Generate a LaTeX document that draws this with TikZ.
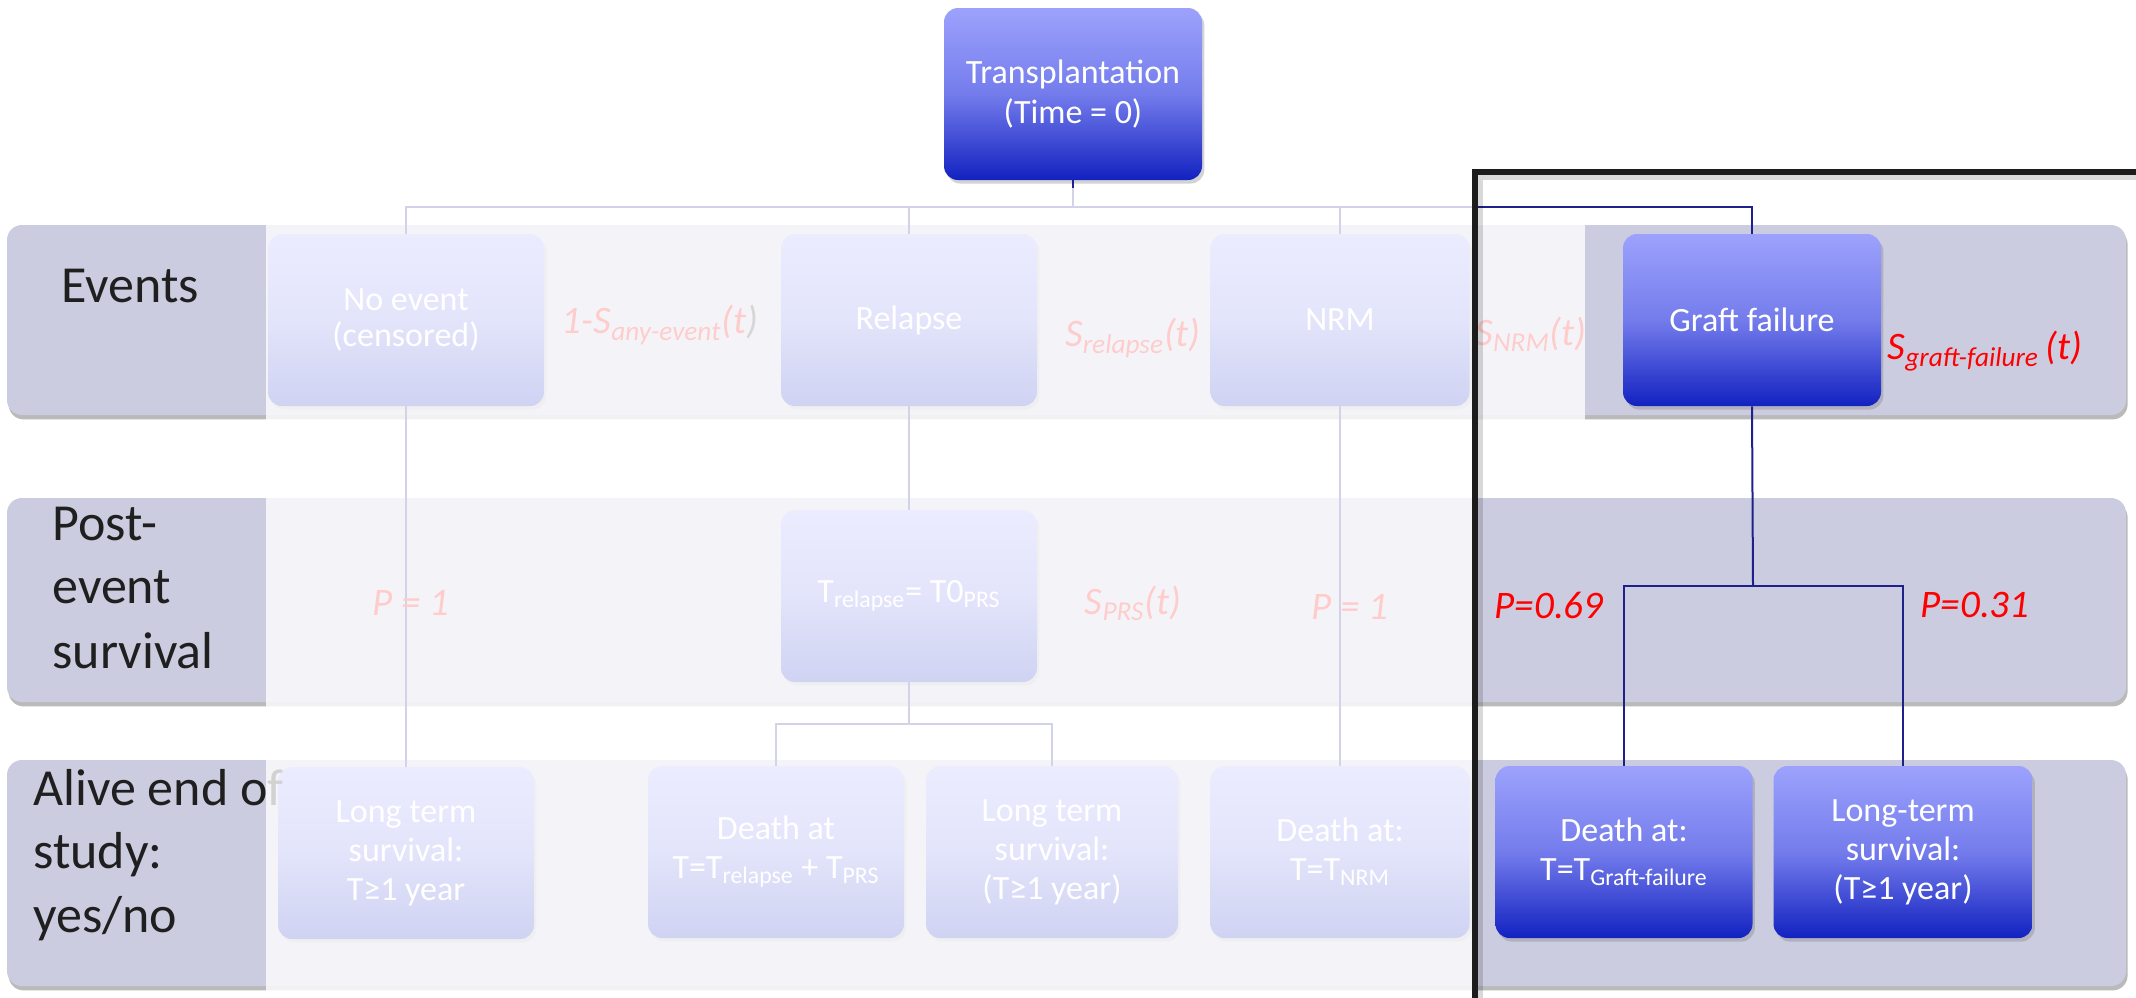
\documentclass[tikz,border=0pt]{standalone}
\usepackage{fontspec}
\setmainfont{Carlito}
\usetikzlibrary{shadows}

\definecolor{bandfill}{RGB}{204,204,224}
\definecolor{gtop}{RGB}{156,162,252}
\definecolor{gmid}{RGB}{116,124,236}
\definecolor{gbot}{RGB}{18,34,192}
\definecolor{navy}{RGB}{32,32,140}
\definecolor{labred}{RGB}{255,0,0}
\definecolor{framecol}{RGB}{28,28,28}

\tikzset{
  band/.style={fill=bandfill, rounded corners=7.5pt,
    drop shadow={shadow xshift=0.8pt, shadow yshift=-2.2pt, opacity=0.45, fill=black!60}},
  gbox/.style={rounded corners=7pt, inner sep=0pt, minimum height=86pt,
    top color=gtop, bottom color=gbot, middle color=gmid,
    text=white, align=center, font=\fontsize{17}{19.5}\selectfont,
    drop shadow={shadow xshift=1.2pt, shadow yshift=-1.8pt, opacity=0.35}},
  conn/.style={draw=navy, line width=1pt},
  rowlabel/.style={anchor=base west, inner sep=0pt, text=black!88,
    font=\fontsize{26}{32}\selectfont},
  prob/.style={text=labred, inner sep=0pt,
    font=\fontsize{19.5}{23}\selectfont\itshape},
  veil/.style={fill=white, fill opacity=0.8, draw=none},
}

\begin{document}
\begin{tikzpicture}[x=0.5pt,y=-0.5pt]
\useasboundingbox (0,0) rectangle (2136,997);
\clip (0,0) rectangle (2136,997);

% horizontal bands
\path[band] (7,225) rectangle (2126,415);
\path[band] (7,498) rectangle (2126,702);
\path[band] (7,760) rectangle (2126,986);

% tree boxes
\node[gbox, minimum width=129pt, font=\fontsize{17}{20}\selectfont] (tx) at (1073,94) {Transplantation\\(Time = 0)};

\node[gbox, minimum width=138pt, font=\fontsize{17}{18}\selectfont] (noev) at (406,320) {No event\\(censored)};
\node[gbox, minimum width=128pt] (rel) at (909,320) {Relapse};
\node[gbox, minimum width=129.5pt] (nrm) at (1340,320) {NRM};
\node[gbox, minimum width=129pt] (gf) at (1752,320) {Graft failure};

\node[gbox, minimum width=128pt] (relp) at (909,596) {T\textsubscript{relapse}= T0\textsubscript{PRS}};

\node[gbox, minimum width=128pt] (nlong) at (406,853) {Long term\\survival:\\T≥1 year};
\node[gbox, minimum width=128pt] (rdeath) at (776,852) {Death at\\T=T\textsubscript{relapse} + T\textsubscript{PRS}};
\node[gbox, minimum width=126pt] (rlong) at (1052,852) {Long term\\survival:\\(T≥1 year)};
\node[gbox, minimum width=129.5pt] (ndeath) at (1340,852) {Death at:\\T=T\textsubscript{NRM}};
\node[gbox, minimum width=128.5pt] (gdeath) at (1624,852) {Death at:\\T=T\textsubscript{Graft-failure}};
\node[gbox, minimum width=129.5pt] (glong) at (1903,852) {Long-term\\survival:\\(T≥1 year)};

% connectors
\coordinate (bus) at (1073,207);
\draw[conn] (tx.south) -- (bus);
\draw[conn] (noev.north) |- (gf.north |- bus) -- (gf.north);
\draw[conn] (rel.north) -- (rel.north |- bus);
\draw[conn] (nrm.north) -- (nrm.north |- bus);

\draw[conn] (noev.south) -- (nlong.north);
\draw[conn] (rel.south) -- (relp.north);
\coordinate (rsplit) at (909,724);
\draw[conn] (relp.south) -- (rsplit);
\draw[conn] (rdeath.north) |- (rsplit) -| (rlong.north);
\draw[conn] (nrm.south) -- (ndeath.north);
\coordinate (gsplit) at (1753,586);
\draw[conn] (gf.south) -- (gsplit);
\draw[conn] (gdeath.north) |- (gsplit) -| (glong.north);

% row labels
\node[rowlabel] (lev) at (61,302) {Events};
\node[rowlabel] (lpe1) at (52,540) {Post-};
\node[rowlabel] (lpe2) at (52,603) {event};
\node[rowlabel] (lpe3) at (52,668) {survival};
\node[rowlabel] (lal1) at (33,805) {Alive end of};
\node[rowlabel] (lal2) at (33,868) {study:};
\node[rowlabel] (lal3) at (33,932) {yes/no};

% probabilities
\node[prob] (pany) at (660,325) {1-S\textsubscript{any-event}(t{\color{black!80})}};
\node[prob] (prel) at (1133,338) {S\textsubscript{relapse}(t)};
\node[prob] (pnrm) at (1531,334) {S\textsubscript{NRM}(t)};
\node[prob] (pgf) at (1985,351) {S\textsubscript{graft-failure}\,(t)};
\node[prob] (pone) at (411,603) {P = 1};
\node[prob] (pprs) at (1133,603) {S\textsubscript{PRS}(t)};
\node[prob] (ptwo) at (1350,607) {P = 1};
\node[prob] (pdie) at (1549,605) {P=0.69};
\node[prob] (psurv) at (1975,605) {P=0.31};

% translucent veil over the branches not highlighted
\path[veil] (266,188) rectangle (1475,1000);
\path[veil] (1475,225) rectangle (1585,422);

% highlight frame
\draw[line width=2.6pt, black, opacity=0.15] (1480,1005) -- (1480,177) -- (2145,177);
\draw[line width=2.6pt, framecol] (1475,1005) -- (1475,172) -- (2145,172);
\end{tikzpicture}
\end{document}
